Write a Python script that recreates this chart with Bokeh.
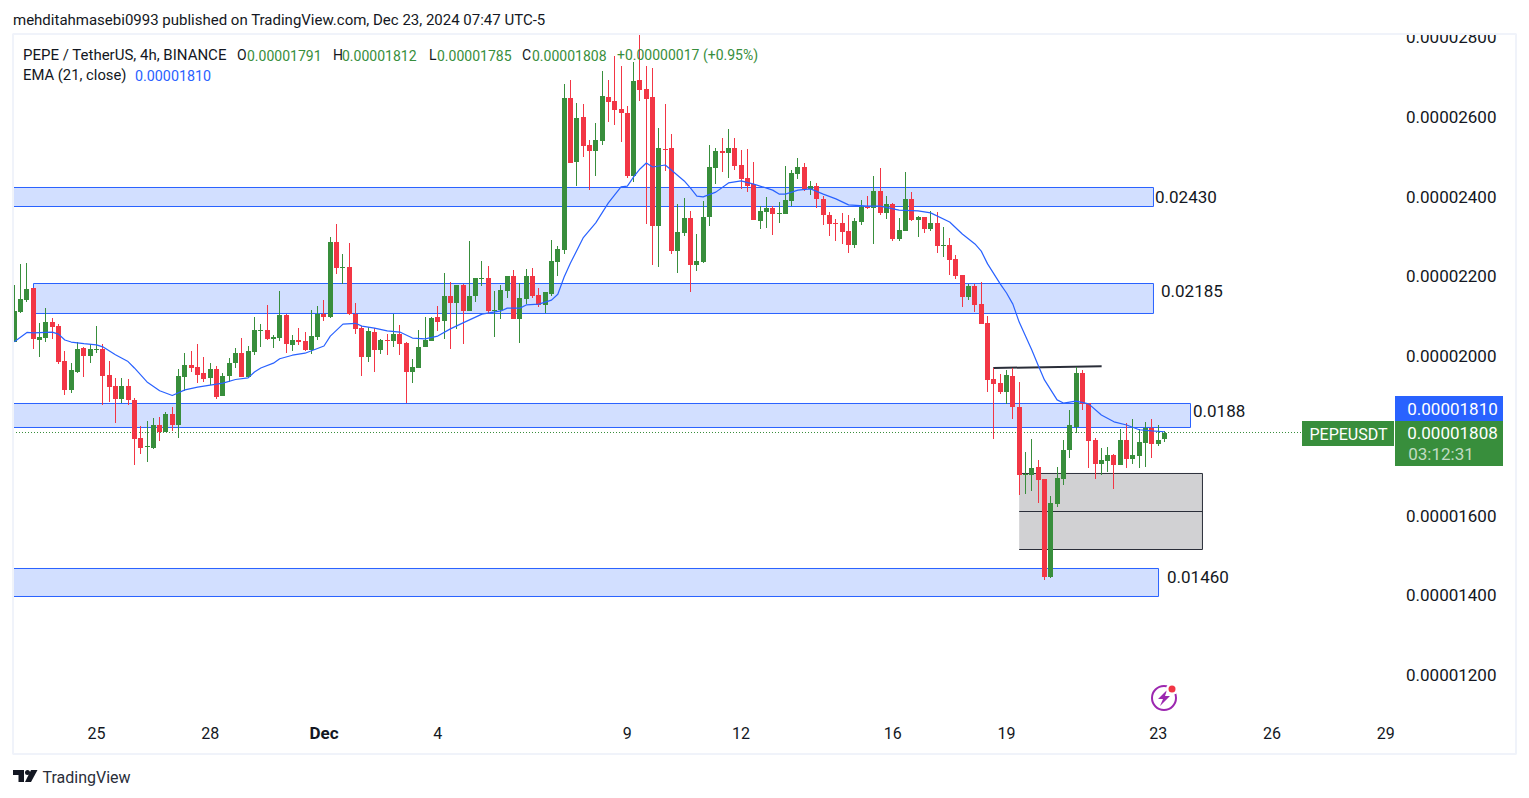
import math
from bokeh.plotting import figure
from bokeh.models import Range1d, LinearAxis, FixedTicker, ColumnDataSource
from bokeh.core.properties import value
from bokeh.embed import file_html
from bokeh.resources import INLINE

# prices are in units of 1e-6 USDT; x is the 4h bar number
opens = [20.36,21.10,21.40,21.70,20.40,20.45,20.85,20.75,19.87,19.15,
 19.60,20.20,20.00,20.15,20.18,19.52,19.25,18.92,19.25,18.90,
 17.94,17.72,17.69,18.27,18.09,18.55,18.27,19.47,19.77,19.72,
 19.57,19.45,19.67,19.00,19.50,19.82,20.07,19.47,20.10,20.63,
 20.65,20.43,20.45,21.03,20.28,20.40,20.38,20.15,20.48,21.05,
 20.98,22.86,22.21,22.23,21.05,20.70,19.98,20.60,20.15,20.40,
 20.38,20.55,20.33,19.60,19.70,20.23,20.38,20.98,20.88,21.50,
 21.33,21.78,21.13,21.50,21.93,21.96,21.13,21.15,21.63,22.01,
 20.93,21.43,22.01,21.53,21.28,21.55,22.36,22.66,26.47,24.87,
 25.99,25.29,25.14,25.39,26.50,26.40,26.19,26.09,24.51,26.92,
 26.70,26.50,23.26,25.19,25.22,22.63,23.09,23.46,22.28,22.36,
 23.49,24.72,25.14,25.09,25.22,24.79,24.46,24.31,23.39,23.61,
 23.71,23.56,23.56,23.89,24.56,24.74,24.18,24.26,23.94,23.54,
 23.34,23.34,23.13,22.78,23.36,23.74,23.71,24.14,23.59,23.81,
 22.93,23.13,23.94,23.41,23.49,23.19,23.34,22.76,22.78,22.43,
 22.03,21.48,21.76,21.30,20.83,19.42,19.32,19.10,19.50,18.72,
 17.02,17.02,17.22,16.92,14.46,16.29,16.92,17.64,18.22,19.57,
 18.82,17.89,17.29,17.37,17.52,17.27,17.89,17.42,17.49,17.82,
 18.20,17.79,17.91]
highs = [21.78,22.31,22.33,21.70,20.83,21.20,20.95,20.80,20.13,19.82,
 20.35,20.23,20.30,20.75,20.30,19.87,19.45,19.45,19.42,18.95,
 18.24,18.37,18.45,18.47,18.60,18.72,19.67,20.07,20.13,20.30,
 19.97,19.82,19.75,19.57,19.95,20.20,20.45,20.25,20.98,20.80,
 21.28,20.53,21.63,21.05,20.53,20.70,20.60,21.15,21.25,21.40,
 22.99,23.31,22.56,22.83,21.33,20.75,20.73,20.70,20.43,20.55,
 21.05,20.78,20.35,19.93,20.65,20.98,20.98,21.25,22.08,21.86,
 21.78,21.81,22.88,21.96,22.38,22.26,21.63,21.78,22.01,22.16,
 21.83,22.18,22.21,21.71,21.60,22.91,22.76,26.82,26.92,26.35,
 26.32,25.42,25.84,27.15,26.92,27.52,27.27,26.27,27.37,28.07,
 27.27,27.22,25.72,26.32,25.57,23.81,23.96,23.64,23.06,23.89,
 25.29,25.22,25.47,25.69,25.47,25.17,25.19,24.87,23.76,23.99,
 23.76,23.86,24.77,24.67,24.97,24.84,24.39,24.34,24.01,23.61,
 23.44,23.59,23.54,23.46,23.91,24.01,24.51,24.72,24.01,23.84,
 23.46,24.61,24.11,23.51,23.49,23.64,23.61,23.24,22.96,22.53,
 22.03,21.81,21.81,21.86,21.00,19.70,19.55,19.65,19.70,19.35,
 17.59,17.92,17.39,16.92,16.49,17.22,17.89,18.65,19.72,19.65,
 18.82,17.94,17.69,17.72,17.54,18.17,18.32,18.42,18.17,18.35,
 18.42,18.27,18.12]
lows = [20.36,21.08,21.35,20.18,19.97,20.35,20.43,19.80,19.02,19.07,
 19.57,19.47,19.82,20.07,18.77,18.85,18.32,18.82,18.77,17.27,
 17.54,17.34,17.67,17.87,18.09,18.12,17.94,19.12,19.60,19.32,
 19.35,19.27,18.92,19.00,19.35,19.70,19.47,19.47,20.03,20.23,
 20.40,20.20,20.38,20.07,20.13,20.28,20.13,20.05,20.40,20.88,
 20.95,22.06,21.81,21.03,20.55,19.50,19.85,19.60,20.05,20.03,
 20.23,20.03,18.82,19.32,19.70,20.23,20.38,20.63,20.43,20.18,
 20.68,20.30,21.13,21.36,21.76,21.05,20.48,20.93,21.45,20.93,
 20.33,21.31,21.45,21.23,21.08,21.50,22.01,22.56,24.84,24.26,
 24.99,24.16,24.51,25.29,25.87,25.79,25.37,24.46,24.36,26.40,
 23.31,22.28,22.23,24.64,22.56,22.08,23.01,21.61,22.13,22.33,
 23.26,24.31,24.62,24.46,24.67,24.19,24.11,23.41,23.19,23.21,
 23.04,23.34,23.56,23.76,24.44,24.14,24.04,23.71,23.29,23.01,
 22.88,22.81,22.58,22.71,23.29,23.69,22.81,23.54,23.44,22.88,
 22.88,23.13,23.39,22.98,23.09,23.13,22.58,22.48,22.03,21.93,
 21.23,21.40,21.10,20.80,19.10,17.92,19.05,18.80,18.42,16.52,
 16.54,16.62,16.31,14.38,14.43,16.21,16.77,17.44,18.07,18.65,
 17.19,16.92,17.02,17.09,16.67,17.27,17.19,17.29,17.19,17.22,
 17.44,17.74,17.85]
closes = [21.13,21.43,21.68,20.43,20.48,20.85,20.73,19.85,19.15,19.65,
 20.18,20.00,20.18,20.18,19.50,19.22,18.92,19.25,18.90,17.92,
 17.69,17.74,18.27,18.09,18.55,18.27,19.50,19.77,19.70,19.52,
 19.42,19.67,18.97,19.50,19.82,20.07,19.47,20.13,20.65,20.65,
 20.43,20.48,21.03,20.30,20.40,20.35,20.15,20.50,21.05,20.98,
 22.86,22.21,22.23,21.05,20.68,19.98,20.63,20.15,20.40,20.38,
 20.55,20.30,19.60,19.73,20.23,20.40,20.95,20.85,21.50,21.33,
 21.78,21.13,21.50,21.96,21.96,21.13,21.15,21.66,22.01,20.93,
 21.45,22.01,21.50,21.28,21.60,22.38,22.68,26.47,24.84,25.97,
 25.27,25.14,25.42,26.52,26.37,26.17,26.09,24.51,26.90,26.67,
 26.45,23.26,25.22,25.17,22.63,23.11,23.46,22.28,22.38,23.49,
 24.74,25.14,25.09,25.22,24.77,24.44,24.26,23.41,23.64,23.71,
 23.56,23.59,23.91,24.59,24.74,24.19,24.26,23.94,23.54,23.31,
 23.31,23.11,22.78,23.39,23.74,23.71,24.14,23.59,23.81,22.93,
 23.16,23.94,23.41,23.49,23.19,23.34,22.76,22.78,22.41,22.01,
 21.48,21.76,21.28,20.80,19.40,19.30,19.10,19.52,18.72,17.02,
 17.04,17.19,16.89,14.46,16.31,16.94,17.64,18.26,19.57,18.80,
 17.87,17.29,17.39,17.52,17.27,17.89,17.42,17.52,17.84,18.20,
 17.79,17.89,18.08]

ema_bars = [1,3,4,7,8,9,10,12,14,15,17,19,20,22,24,26,28,30,32,34,36,38,39,40,42,43,45,47,50,51,53,55,56,58,60,62,64,66,68,70,72,75,78,79,81,82,84,86,87,88,89,91,93,95,97,98,99,100,101,102,104,105,107,108,109,110,112,114,116,118,121,122,123,125,127,129,131,133,136,138,141,144,146,149,151,153,154,155,157,158,159,160,161,162,163,164,166,167,169,171,173,175,177,179,181,183]
ema_vals = [20.36,20.59,20.58,20.60,20.55,20.40,20.35,20.31,20.28,20.23,20.03,19.86,19.70,19.35,19.13,19.01,19.15,19.22,19.27,19.32,19.41,19.45,19.60,19.70,19.82,19.93,20.02,20.07,20.25,20.50,20.80,20.82,20.75,20.70,20.63,20.60,20.45,20.43,20.50,20.68,20.83,21.05,21.13,21.20,21.20,21.28,21.30,21.40,21.55,21.98,22.33,22.96,23.34,23.84,24.24,24.26,24.49,24.69,24.84,24.74,24.79,24.66,24.39,24.21,24.01,23.99,24.11,24.34,24.39,24.31,24.16,24.06,24.06,24.16,24.19,24.06,23.94,23.79,23.76,23.76,23.66,23.64,23.59,23.36,23.06,22.81,22.63,22.31,21.81,21.58,21.30,20.85,20.50,20.15,19.77,19.40,18.90,18.82,18.87,18.80,18.52,18.35,18.27,18.15,18.12,18.10]

zone_tops = [24.226, 21.818, 18.809, 14.671]
zone_bottoms = [23.749, 21.066, 18.207, 13.969]
zone_left_bar_2 = 4.04
zone_right_bars = [181.25, 181.25, 187.11, 182.05]
zone_labels = ["0.02430", "0.02185", "0.0188", "0.01460"]
box_levels = [17.054, 16.100, 15.147]
last_price = 18.08
price_ticks = [12, 14, 16, 18, 20, 22, 24, 26, 28]
price_tick_labels = ["0.00001200","0.00001400","0.00001600","0.00001800","0.00002000","0.00002200","0.00002400","0.00002600","0.00002800"]
time_ticks = [14, 32, 50, 68, 98, 116, 140, 158, 182, 200, 218]
time_tick_labels = ["25", "28", "", "4", "9", "12", "16", "19", "23", "26", "29"]

GREEN, RED, BLUE, INK = "#388e3c", "#f23645", "#2962ff", "#131722"
FONT = value("Roboto")

def fx(px):
    return (px - 14.3) / 6.32 + 1
def fy(py):
    return 28 - (py - 37) / 39.875
def px_x(bar):
    return 14.3 + (bar - 1) * 6.32
def px_y(price):
    return 37 + (28 - price) * 39.875

# ranges start half a pixel in: the drawing layer adds a half-pixel translate
p = figure(width=1525, height=790, output_backend="svg", toolbar_location=None,
           x_axis_type=None, y_axis_type=None, min_border=0, outline_line_color=None,
           x_range=Range1d(fx(0.5), fx(1525.5)), y_range=Range1d(fy(790.5), fy(0.5)))

def txt(px, py, s, color=INK, size=14, align="left", style="normal", alpha=1.0):
    p.text([fx(px)], [fy(py)], text=[s], text_color=color, text_font=FONT, text_font_size=f"{size}px",
           text_align=align, text_baseline="middle", text_font_style=style, text_alpha=alpha)

# axes, inside the single full-page frame
ya = LinearAxis(fixed_location=fx(1406), ticker=FixedTicker(ticks=price_ticks),
                major_label_overrides=dict(zip(price_ticks, price_tick_labels)),
                axis_line_color=None, major_tick_line_color=None, minor_tick_line_color=None,
                major_label_standoff=0, major_tick_in=0, major_tick_out=0,
                major_label_text_font="Roboto", major_label_text_font_size="17px",
                major_label_text_color=INK, level="underlay")
p.add_layout(ya, "right")
xa = LinearAxis(fixed_location=fy(727), ticker=FixedTicker(ticks=time_ticks),
                major_label_overrides=dict(zip(time_ticks, time_tick_labels)),
                axis_line_color=None, major_tick_line_color=None, minor_tick_line_color=None,
                major_label_standoff=0, major_tick_in=0, major_tick_out=0,
                major_label_text_font="Roboto", major_label_text_font_size="16px",
                major_label_text_color=INK, level="underlay")
p.add_layout(xa, "below")
txt(324, 733, "Dec", size=17, align="center", style="bold")

# supply/demand zones
zone_lefts = [fx(13), zone_left_bar_2, fx(13), fx(13)]
p.quad(left=zone_lefts, right=zone_right_bars, top=zone_tops, bottom=zone_bottoms,
       fill_color="#d2dfff", line_color=BLUE, line_width=1)
for x, y, s in zip([1155, 1161, 1193, 1167], [197, 291, 411, 577], zone_labels):
    txt(x, y, s, size=17)

# grey box
box_l, box_r = 160, 189
p.quad(left=[box_l], right=[box_r], top=[box_levels[0]], bottom=[box_levels[2]], fill_color="#d1d1d3", line_color=None)
p.segment(x0=[box_l, box_l, box_l, box_r], x1=[box_r, box_r, box_r, box_r],
          y0=[box_levels[0], box_levels[1], box_levels[2], box_levels[0]],
          y1=[box_levels[0], box_levels[1], box_levels[2], box_levels[2]],
          line_color="#2a2e39", line_width=1)
p.line([155.9, 173.05], [19.70, 19.74], line_color="#2a2e39", line_width=2)

# last price line
ly = fy(math.floor(px_y(last_price)) + 0.5)
p.line([fx(13), fx(1395)], [ly, ly], line_color=GREEN, line_width=1, line_dash="1 2")

# candles: the values go through a pixel snap, as the original renderer does
bars = list(range(1, len(opens) + 1))
colors = [GREEN if c >= o else RED for o, c in zip(opens, closes)]
sx = [fx(math.floor(px_x(b)) + 0.5) for b in bars]
def snap(v):
    return fy(round(px_y(v)))
body_top = [snap(max(o, c)) for o, c in zip(opens, closes)]
body_bot = [min(fy(px_y(t) + 1), snap(min(o, c))) for t, o, c in zip(body_top, opens, closes)]
src = ColumnDataSource(dict(x=sx, t=body_top, b=body_bot, h=[snap(v) for v in highs], l=[snap(v) for v in lows], color=colors))
p.segment(x0="x", x1="x", y0="l", y1="h", line_color="color", line_width=1, source=src)
p.vbar(x="x", width=5 / 6.32, top="t", bottom="b", fill_color="color", line_color=None, source=src)

# EMA
p.line(ema_bars, ema_vals, line_color=BLUE, line_width=1.2)

# price tags
p.quad(left=[fx(1395)], right=[fx(1503)], top=[fy(396)], bottom=[fy(421)], fill_color=BLUE, line_color=None)
p.quad(left=[fx(1395)], right=[fx(1503)], top=[fy(421)], bottom=[fy(466)], fill_color=GREEN, line_color=None)
p.quad(left=[fx(1302)], right=[fx(1394)], top=[fy(421)], bottom=[fy(446)], fill_color=GREEN, line_color=None)
txt(1452.5, 409, "0.00001810", "white", 17, "center")
txt(1452.5, 433, "0.00001808", "white", 17, "center")
txt(1441, 454, "03:12:31", "white", 17, "center", alpha=0.7)
txt(1348.5, 434, "PEPEUSDT", "white", 16, "center")

# pane border and top clip of the axis label
p.quad(left=[fx(1395)], right=[fx(1512)], top=[fy(26)], bottom=[fy(33)], fill_color="white", line_color=None)
p.quad(left=[fx(13)], right=[fx(1516)], top=[fy(34)], bottom=[fy(754)], fill_alpha=0, line_color="#f0f3fa", line_width=2)

# header and legend
txt(13, 20, "mehditahmasebi0993 published on TradingView.com, Dec 23, 2024 07:47 UTC-5", size=15)
txt(23, 55, "PEPE / TetherUS, 4h, BINANCE", size=15)
for x, s, c in [(237, "O", INK), (247, "0.00001791", GREEN), (333, "H", INK), (342, "0.00001812", GREEN),
                (429, "L", INK), (437, "0.00001785", GREEN), (522, "C", INK), (532, "0.00001808", GREEN),
                (617, "+0.00000017 (+0.95%)", GREEN)]:
    txt(x, 55, s, c, 14)
txt(23, 75, "EMA (21, close)", size=14.8)
txt(135, 75, "0.00001810", BLUE, 14.3)

# footer logo
p.patches([[fx(v) for v in (13, 24, 24, 18.5, 18.5, 13)],
           [fx(v) for v in (31, 37.5, 31, 25)]],
          [[fy(v) for v in (770, 770, 782, 782, 775, 775)],
           [fy(v) for v in (770, 770, 782, 782)]], fill_color=INK, line_color=None)
p.scatter([fx(27.5)], [fy(772.5)], size=5, fill_color=INK, line_color=None)
txt(42.5, 777, "TradingView", "#2a2e39", 16)

# lightning icon
p.scatter([fx(1164)], [fy(698)], size=24, fill_color=None, line_color="#9c27b0", line_width=2)
p.patch([fx(v) for v in (1167, 1158, 1163, 1160, 1170, 1165)],
        [fy(v) for v in (690, 699, 699, 706, 696, 696)], fill_color="#9c27b0", line_color=None)
p.scatter([fx(1172)], [fy(689)], size=12, fill_color="white", line_color=None)
p.scatter([fx(1172)], [fy(689)], size=7, fill_color=RED, line_color=None)

open("out.html", "w").write(file_html(p, INLINE))
